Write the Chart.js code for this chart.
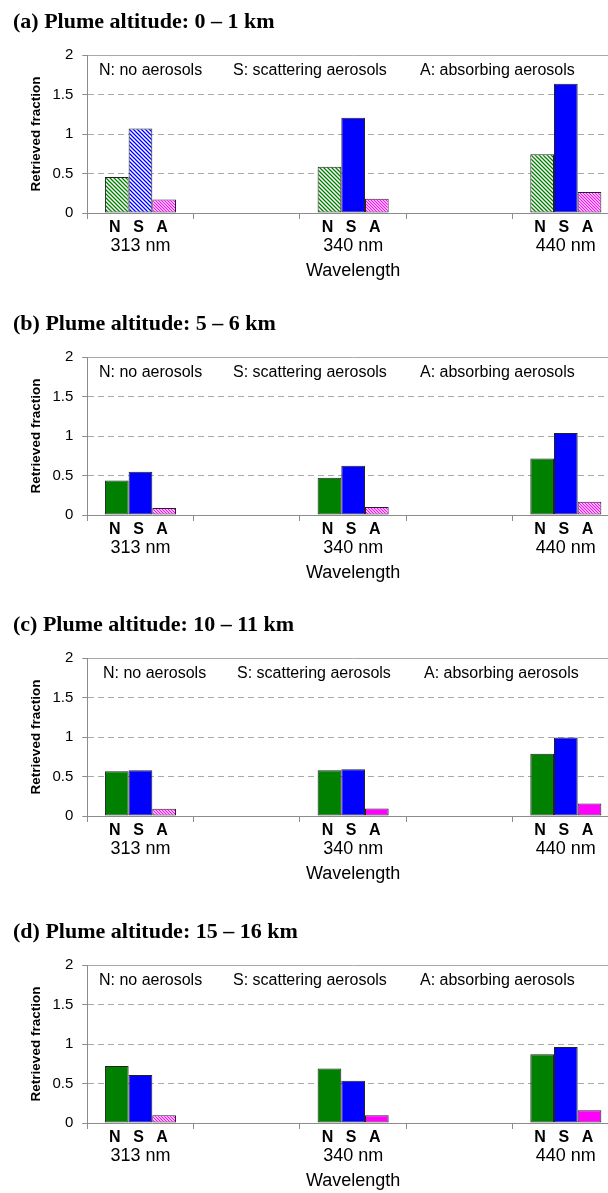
<!DOCTYPE html>
<html>
<head>
<meta charset="utf-8">
<script src="https://cdn.jsdelivr.net/npm/chart.js@4.4.0/dist/chart.umd.min.js"></script>
<style>
  html, body { margin: 0; padding: 0; background: #fff; }
  #page { position: relative; width: 608px; height: 1193px; overflow: hidden; }
  #page canvas { position: absolute; left: 0; }
</style>
</head>
<body>
<div id="page"></div>
<script>
// categories and labels
const wavelengths = ['313 nm', '340 nm', '440 nm'];
const seriesLetters = ['N', 'S', 'A'];
const keyTexts = ['N: no aerosols', 'S: scattering aerosols', 'A: absorbing aerosols'];
const panelTitles = [
  '(a) Plume altitude: 0 \u2013 1 km',
  '(b) Plume altitude: 5 \u2013 6 km',
  '(c) Plume altitude: 10 \u2013 11 km',
  '(d) Plume altitude: 15 \u2013 16 km'
];
const yTicks = [0, 0.5, 1, 1.5, 2];

// retrieved fraction, one value per wavelength
const plumeA_none = [0.455, 0.585, 0.745];
const plumeA_scat = [1.07, 1.205, 1.635];
const plumeA_abs  = [0.17, 0.18, 0.265];

const plumeB_none = [0.437, 0.47, 0.714];
const plumeB_scat = [0.546, 0.622, 1.038];
const plumeB_abs  = [0.088, 0.10, 0.168];

const plumeC_none = [0.566, 0.579, 0.788];
const plumeC_scat = [0.579, 0.591, 0.994];
const plumeC_abs  = [0.092, 0.096, 0.159];

const plumeD_none = [0.723, 0.689, 0.87];
const plumeD_scat = [0.609, 0.534, 0.962];
const plumeD_abs  = [0.097, 0.097, 0.16];

// which bars are drawn hatched (1) instead of solid (0)
const hatchA = [[1, 1, 1], [1, 0, 0], [1, 1, 1]];
const hatchB = [[0, 0, 0], [0, 0, 0], [1, 1, 1]];
const hatchC = [[0, 0, 0], [0, 0, 0], [1, 0, 0]];
const hatchD = [[0, 0, 0], [0, 0, 0], [1, 0, 0]];

const seriesColors = ['#008000', '#0000ff', '#ff00ff'];
const panelTops = [0, 302, 603, 910];
const keyShift = [0, 0, 4, 0];

const panels = [
  { values: [plumeA_none, plumeA_scat, plumeA_abs], hatch: hatchA },
  { values: [plumeB_none, plumeB_scat, plumeB_abs], hatch: hatchB },
  { values: [plumeC_none, plumeC_scat, plumeC_abs], hatch: hatchC },
  { values: [plumeD_none, plumeD_scat, plumeD_abs], hatch: hatchD }
];

const SANS = 'Liberation Sans, Arial, sans-serif';
Chart.defaults.font.family = SANS;
Chart.defaults.color = '#000';

function hatchPattern(color, size, width) {
  const c = document.createElement('canvas');
  c.width = size;
  c.height = size;
  const g = c.getContext('2d');
  g.fillStyle = '#fff';
  g.fillRect(0, 0, size, size);
  g.strokeStyle = color;
  g.lineWidth = width;
  g.beginPath();
  for (let k = -1; k <= 1; k++) {
    g.moveTo(k * size - 1, -1);
    g.lineTo(k * size + size + 1, size + 1);
  }
  g.stroke();
  return g.createPattern(c, 'repeat');
}

const patterns = [
  hatchPattern(seriesColors[0], 4, 1.3),
  hatchPattern(seriesColors[1], 4, 1.3),
  hatchPattern(seriesColors[2], 3, 1.2)
];

// an empty slot between wavelengths, as in the original sheet
const gapped = arr => arr.flatMap((v, i) => i < arr.length - 1 ? [v, null] : [v]);
const labels = gapped(wavelengths).map(v => v === null ? '' : v);

const letterPlugin = {
  id: 'letters',
  afterDatasetsDraw(chart, args, opts) {
    const ctx = chart.ctx;
    const area = chart.chartArea;
    ctx.save();
    ctx.fillStyle = '#000';
    ctx.textAlign = 'center';
    ctx.textBaseline = 'alphabetic';
    ctx.font = 'bold 16px ' + SANS;
    chart.data.datasets.forEach((ds, i) => {
      chart.getDatasetMeta(i).data.forEach((bar, j) => {
        if (ds.data[j] === null) return;
        ctx.fillText(seriesLetters[i], bar.x - 2, area.bottom + 18.5);
      });
    });
    ctx.font = '16px ' + SANS;
    ctx.textAlign = 'left';
    ctx.textBaseline = 'middle';
    const xs = [99, 233, 420];
    keyTexts.forEach((t, i) => ctx.fillText(t, xs[i] + opts.shift, area.top + 15.5));
    ctx.restore();
  }
};

panels.forEach((p, n) => {
  const canvas = document.createElement('canvas');
  canvas.width = 640;
  canvas.height = 290;
  canvas.style.top = panelTops[n] + 'px';
  document.getElementById('page').appendChild(canvas);

  const datasets = p.values.map((vals, i) => ({
    label: seriesLetters[i],
    data: gapped(vals),
    backgroundColor: gapped(p.hatch[i]).map(h => h ? patterns[i] : seriesColors[i]),
    borderColor: '#222',
    borderWidth: 1,
    borderSkipped: false,
    barPercentage: 1,
    categoryPercentage: 0.668
  }));

  new Chart(canvas, {
    type: 'bar',
    data: { labels: labels, datasets: datasets },
    options: {
      responsive: false,
      animation: false,
      devicePixelRatio: 1,
      layout: { padding: { left: 13, right: 21, top: 0, bottom: 0 } },
      plugins: {
        legend: { display: false },
        tooltip: { enabled: false },
        letters: { shift: keyShift[n] },
        title: {
          display: true,
          text: panelTitles[n],
          align: 'start',
          color: '#000',
          font: { family: 'Liberation Serif, Times New Roman, serif', size: 22, weight: 'bold' },
          padding: { top: 9, bottom: 19.6 }
        }
      },
      scales: {
        x: {
          ticks: { autoSkip: false, maxRotation: 0, font: { size: 18 }, padding: 16 },
          grid: { offset: true, drawOnChartArea: false, tickLength: 6, color: '#8c8c8c' },
          border: { color: '#8c8c8c' },
          title: { display: true, text: 'Wavelength', font: { size: 18 }, padding: { top: 0, bottom: 8 } },
          afterFit: s => { s.height = 77; }
        },
        y: {
          min: 0,
          max: 2,
          afterBuildTicks: s => { s.ticks = yTicks.map(v => ({ value: v })); },
          ticks: { font: { size: 15 }, padding: 9, callback: v => String(v) },
          grid: { color: '#a8a8a8', tickLength: 5, tickColor: '#8c8c8c' },
          border: {
            color: '#8c8c8c',
            dash: c => (c.tick && c.tick.value > 0 && c.tick.value < 2) ? [6, 4] : []
          },
          title: {
            display: true,
            text: 'Retrieved fraction',
            font: { size: 13.5, weight: 'bold' },
            padding: { top: 15.4, bottom: 0 }
          },
          afterFit: s => { s.width = 74.3; }
        }
      }
    },
    plugins: [letterPlugin]
  });
});
</script>
</body>
</html>
